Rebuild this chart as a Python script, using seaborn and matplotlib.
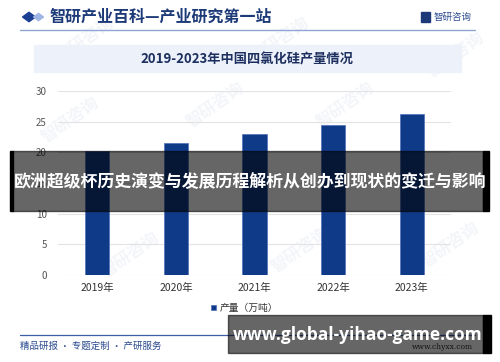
import matplotlib
matplotlib.use("Agg")
import matplotlib.pyplot as plt
import seaborn as sns
from matplotlib.patches import Rectangle, RegularPolygon
from matplotlib.lines import Line2D

# 数据
years = ["2019年", "2020年", "2021年", "2022年", "2023年"]
output = [20.2, 21.6, 23.0, 24.5, 26.3]
yticks = [0, 5, 10, 15, 20, 25, 30]

header = "智研产业百科—产业研究第一站"
title = "2019-2023年中国四氯化硅产量情况"
legend_label = "产量（万吨）"
footer = "精品研报 · 专题定制 · 产研服务"
banner = "欧洲超级杯历史演变与发展历程解析从创办到现状的变迁与影响"
url = "www.global-yihao-game.com"

sns.set_theme(style="white")
plt.rcParams["font.family"] = ["Noto Sans CJK SC", "DejaVu Sans"]

navy = "#0f3a88"
fig = plt.figure(figsize=(5, 3.62), dpi=100)
W, H = 500, 362


def fx(px):
    return px / W


def fy(py):
    return 1 - py / H


# 水印（很淡）
for (x, y) in [(70, 120), (215, 105), (345, 105), (455, 55), (130, 255), (300, 250), (450, 245), (85, 40), (280, 40)]:
    fig.text(fx(x), fy(y), "智研咨询", fontsize=12, color="#f3f5f9", rotation=35,
             ha="center", va="center", fontweight="bold", zorder=-1)

# 顶部标题栏
fig.patches.append(RegularPolygon((fx(29), fy(17)), 4, radius=0.013, orientation=0,
                                  transform=fig.transFigure, color="#1b3f93", zorder=2))
fig.patches.append(RegularPolygon((fx(38.5), fy(17)), 4, radius=0.010, orientation=0,
                                  transform=fig.transFigure, color="#9fb5e3", zorder=2))
fig.text(fx(50), fy(17), header, fontsize=11.5, color="#1d3a78", fontweight="bold",
         ha="left", va="center")
fig.lines.append(Line2D([fx(20), fx(475)], [fy(30), fy(30)], transform=fig.transFigure,
                        color="#8fa5d6", lw=1))
fig.patches.append(Rectangle((fx(421), fy(22)), fx(9), 10 / H, transform=fig.transFigure,
                             color="#1d3a78"))
fig.text(fx(434), fy(17), "智研咨询", fontsize=6.8, color="#2a4a8e", ha="left", va="center")

# 标题框
fig.patches.append(Rectangle((fx(34), fy(72)), fx(427), 27 / H, transform=fig.transFigure,
                             color="#ecf1fa", zorder=1))
fig.text(fx(247), fy(59), title, fontsize=9.5, color="#1d2f5e", fontweight="bold",
         ha="center", va="center", zorder=3)

# 柱状图
ax = fig.add_axes([fx(58), fy(275), fx(393), (275 - 91) / H])
ax.patch.set_alpha(0)
sns.barplot(x=years, y=output, color=navy, width=0.31, label=legend_label,
            edgecolor="#4f70b8", linewidth=0.5, saturation=1, ax=ax, zorder=3)
ax.set_xlim(-0.5, 4.5)
ax.set_ylim(0, 30)
ax.set_yticks(yticks)
ax.yaxis.grid(True, color="#e3e3e3", lw=0.8)
ax.set_axisbelow(True)
for s in ax.spines.values():
    s.set_visible(False)
ax.tick_params(axis="y", length=0, labelsize=7, labelcolor="#555555", pad=8)
ax.tick_params(axis="x", length=0, labelsize=7.5, labelcolor="#333333", pad=6)
ax.set_xlabel("")
ax.set_ylabel("")
ax.legend(loc="center", bbox_to_anchor=(fx(245), fy(308)), bbox_transform=fig.transFigure,
          frameon=False, fontsize=7, handlelength=0.5, handleheight=0.5, handletextpad=0.4,
          labelcolor="#333333")

# 底部
fig.lines.append(Line2D([fx(20), fx(475)], [fy(335), fy(335)], transform=fig.transFigure,
                        color="#3d5fa8", lw=0.9))
fig.text(fx(20), fy(346), footer, fontsize=6.8, color="#2a4a8e", ha="left", va="center")
fig.text(fx(473), fy(347), "www.chyxx.com", fontsize=5.5, color="#333333", ha="right",
         va="center", family="DejaVu Serif")

# 覆盖横幅
fig.patches.append(Rectangle((fx(12), fy(211)), fx(471), 60 / H, transform=fig.transFigure,
                             color="black", alpha=0.6, zorder=10))
fig.patches.append(Rectangle((fx(10), fy(211)), fx(3), 60 / H, transform=fig.transFigure,
                             color="black", zorder=10))
fig.patches.append(Rectangle((fx(483), fy(211)), fx(6), 60 / H, transform=fig.transFigure,
                             color="black", zorder=10))
fig.text(fx(250), fy(182), banner, fontsize=12.2, color="white", fontweight="bold",
         ha="center", va="center", zorder=11)

fig.patches.append(Rectangle((fx(228), fy(353)), fx(255), 38 / H, transform=fig.transFigure,
                             color="black", alpha=0.6, zorder=10))
fig.patches.append(Rectangle((fx(483), fy(353)), fx(8), 38 / H, transform=fig.transFigure,
                             color="black", zorder=10))
fig.text(fx(358), fy(335), url, fontsize=12.5, color="white", fontweight="bold",
         ha="center", va="center", zorder=11, family=["Open Sans", "DejaVu Sans"])

fig.savefig("out.png", dpi=100)
